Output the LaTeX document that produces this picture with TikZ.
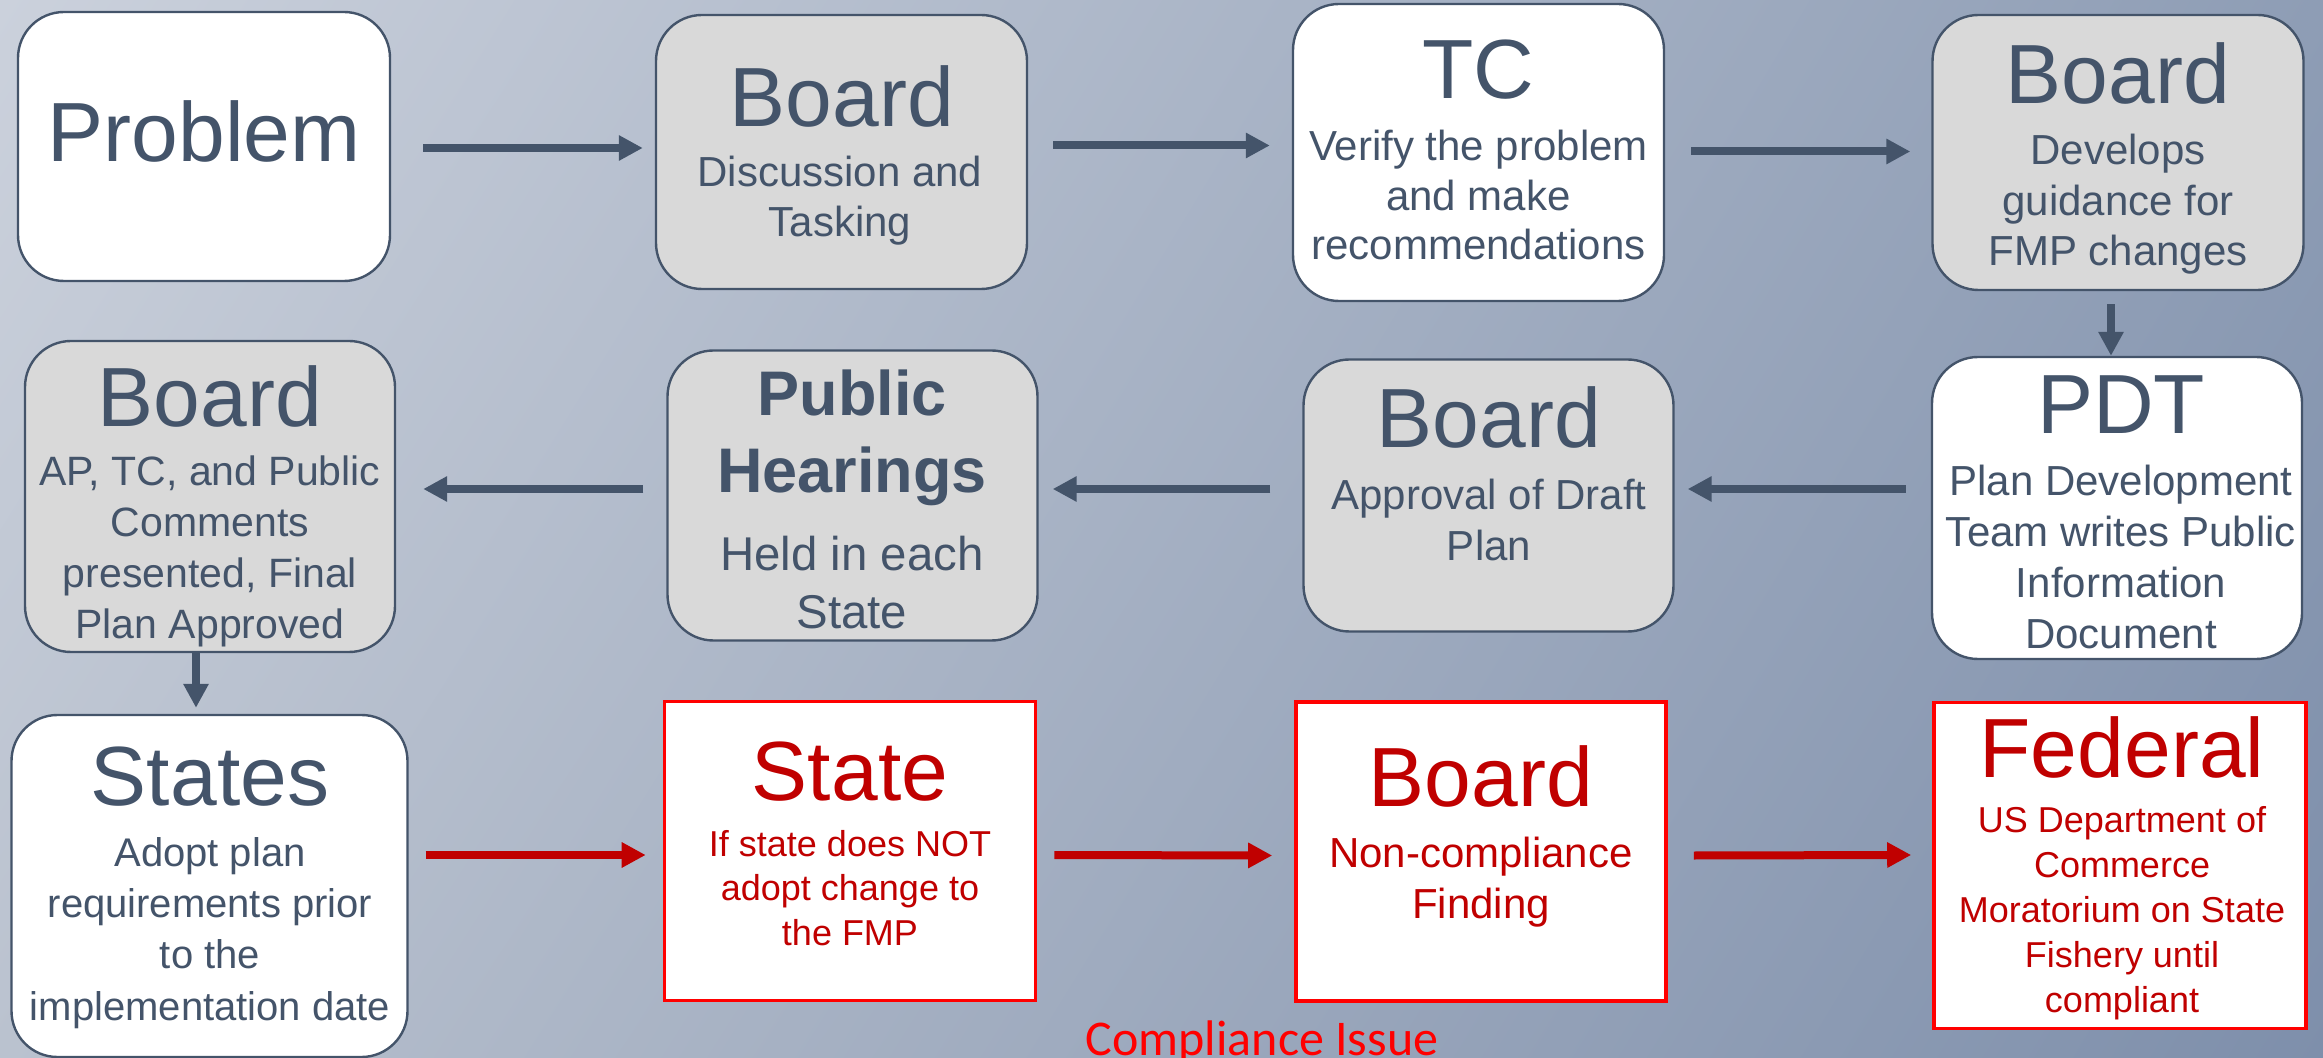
\documentclass[tikz,border=0pt]{standalone}
\usepackage{fontspec}
\setmainfont{Liberation Sans}
\newfontfamily\cifont{Carlito}
\usetikzlibrary{arrows.meta,calc,shadings}
\definecolor{slate}{HTML}{44546A}
\definecolor{boxgray}{HTML}{D9D9D9}
\definecolor{dred}{HTML}{C00000}
\definecolor{bred}{HTML}{FF0000}
\definecolor{bgTL}{HTML}{CBD1DC}
\definecolor{bgTR}{HTML}{8E9DB5}
\definecolor{bgBL}{HTML}{BAC2CF}
\definecolor{bgBR}{HTML}{7E8FAB}
\newcommand{\ml}[1]{\begin{tabular}[t]{@{}c@{}}#1\end{tabular}}
\tikzset{
  sz/.style 2 args={minimum width=#1*0.5pt, minimum height=#2*0.5pt, inner sep=0pt},
  rbox/.style={draw=slate, line width=1.2pt, rounded corners=23pt},
  wbox/.style={rbox, fill=white},
  gbox/.style={rbox, fill=boxgray},
  redbox/.style={draw=bred, line width=1.8pt, fill=white},
  ttl/.style={font=\fontsize{42}{50}\selectfont, text=slate, inner sep=0pt, anchor=base},
  rttl/.style={ttl, text=dred},
  subtxt/.style={text=slate, inner sep=0pt, anchor=base},
  arr/.style={draw=slate, line width=4pt, -{Triangle[length=12pt,width=12pt]}},
  rarr/.style={arr, draw=dred, -{Triangle[length=12pt,width=12pt,fill=dred]}},
}
\begin{document}
\begin{tikzpicture}[x=0.5pt,y=-0.5pt]
\shade[upper left=bgTL, upper right=bgTR, lower left=bgBL, lower right=bgBR] (0,0) rectangle (2323,1058);
\useasboundingbox (0,0) rectangle (2323,1058);

% row 1
\node[wbox, sz={372}{269}] (prob) at (204,146.5) {};
\node[gbox, sz={371}{274}] (b1) at (841.5,152) {};
\node[wbox, sz={371}{297}] (tc) at (1478.5,152.5) {};
\node[gbox, sz={371}{275}] (b2) at (2118,152.5) {};
% row 2
\node[gbox, sz={370}{311}] (b3) at (210,496.5) {};
\node[gbox, sz={370}{290}] (ph) at (852.5,495.5) {};
\node[gbox, sz={370}{272}] (b4) at (1488.5,495.5) {};
\node[wbox, sz={370}{302}] (pdt) at (2117,508) {};
% row 3
\node[wbox, sz={396}{342}] (st) at (209.5,886) {};
\node[redbox, sz={371}{299}] (s1) at (850,851) {};
\node[redbox, sz={370}{299}] (b5) at (1481,851.5) {};
\node[redbox, sz={372}{326}] (fed) at (2120,865.5) {};

% texts
\node[ttl] (prob-t) at (204,162) {Problem};

\node[ttl] (b1-t) at (842,127) {Board};
\node[subtxt, font=\fontsize{21}{25}\selectfont] (b1-s) at (840,187) {\ml{Discussion and\\Tasking}};

\node[ttl] (tc-t) at (1478.5,99) {TC};
\node[subtxt, font=\fontsize{21}{24.75}\selectfont] (tc-s) at (1478.5,161) {\ml{Verify the problem\\and make\\recommendations}};

\node[ttl] (b2-t) at (2118,104) {Board};
\node[subtxt, font=\fontsize{21}{25.25}\selectfont] (b2-s) at (2118,165) {\ml{Develops\\guidance for\\FMP changes}};

\node[ttl] (b3-t) at (210,427) {Board};
\node[subtxt, font=\fontsize{20.5}{25.5}\selectfont] (b3-s) at (210,486) {\ml{AP, TC, and Public\\Comments\\presented, Final\\Plan Approved}};

\node[subtxt, font=\bfseries\fontsize{31.5}{38.5}\selectfont] (ph-t) at (852,416) {\ml{Public\\Hearings}};
\node[subtxt, font=\fontsize{23.7}{28.5}\selectfont] (ph-s) at (852,571) {\ml{Held in each\\State}};

\node[ttl] (b4-t) at (1489,448) {Board};
\node[subtxt, font=\fontsize{21}{25}\selectfont] (b4-s) at (1489,510) {\ml{Approval of Draft\\Plan}};

\node[ttl] (pdt-t) at (2121,434) {PDT};
\node[subtxt, font=\fontsize{21}{25.5}\selectfont] (pdt-s) at (2121,496) {\ml{Plan Development\\Team writes Public\\Information\\Document}};

\node[ttl] (st-t) at (210,805) {States};
\node[subtxt, font=\fontsize{20}{25.7}\selectfont] (st-s) at (210,866) {\ml{Adopt plan\\requirements prior\\to the\\implementation date}};

\node[rttl] (s1-t) at (850,800) {State};
\node[subtxt, text=dred, font=\fontsize{18}{22.3}\selectfont] (s1-s) at (850,856) {\ml{If state does NOT\\adopt change to\\the FMP}};

\node[rttl] (b5-t) at (1481,806) {Board};
\node[subtxt, text=dred, font=\fontsize{21}{25.5}\selectfont] (b5-s) at (1481,867) {\ml{Non-compliance\\Finding}};

\node[rttl] (fed-t) at (2122,777) {Federal};
\node[subtxt, text=dred, font=\fontsize{18}{22.5}\selectfont] (fed-s) at (2122,832) {\ml{US Department of\\Commerce\\Moratorium on State\\Fishery until\\compliant}};

\node[subtxt, text=bred, font=\cifont\fontsize{25}{30}\selectfont] (ci) at (1262,1055) {Compliance Issue};

% connectors
\draw[arr] ($(prob.east)+(32,1.5)$) -- ($(b1.west)+(-12,-4)$);
\draw[arr] ($(b1.east)+(25,-6.5)$) -- ($(tc.west)+(-22,-7)$);
\draw[arr] ($(tc.east)+(26,-1)$) -- ($(b2.west)+(-21,-1)$);
\draw[arr] ($(b2.south)+(-7,13)$) -- ($(pdt.north)+(-6,0)$);
\draw[arr] ($(pdt.west)+(-25,-19)$) -- ($(b4.east)+(13,-6.5)$);
\draw[arr] ($(b4.west)+(-32,-6.5)$) -- ($(ph.east)+(14,-6.5)$);
\draw[arr] ($(ph.west)+(-23,-6.5)$) -- ($(b3.east)+(27,-7.5)$);
\draw[arr] ($(b3.south)+(-14,0)$) -- ($(st.north)+(-13.5,-6)$);
\draw[rarr] ($(st.east)+(17,-31)$) -- ($(s1.west)+(-17,4)$);
\draw[rarr] ($(s1.east)+(17,4)$) -- ($(b5.west)+(-22,4)$);
\draw[rarr] ($(b5.east)+(26,4)$) -- ($(fed.west)+(-21,-10.5)$);
\end{tikzpicture}
\end{document}
